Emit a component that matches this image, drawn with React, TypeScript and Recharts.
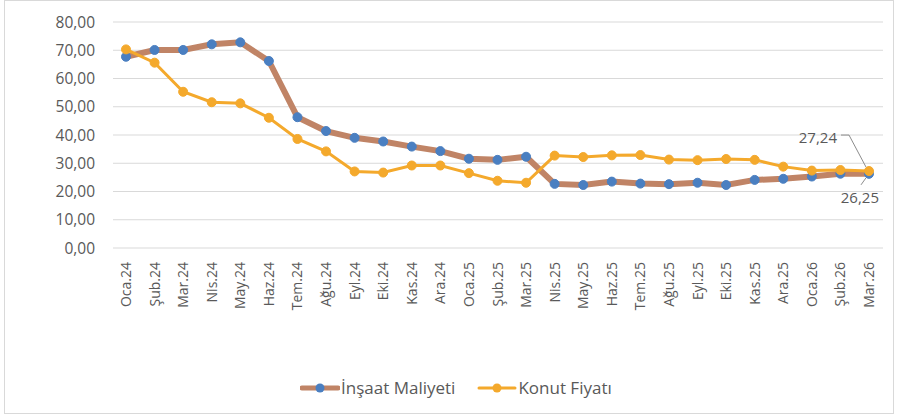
import React from 'react';
import {
  LineChart,
  Line,
  XAxis,
  YAxis,
  CartesianGrid,
  LabelList,
} from 'recharts';

const months = [
  'Oca.24', 'Şub.24', 'Mar.24', 'Nis.24', 'May.24', 'Haz.24', 'Tem.24', 'Ağu.24', 'Eyl.24', 'Eki.24', 'Kas.24', 'Ara.24',
  'Oca.25', 'Şub.25', 'Mar.25', 'Nis.25', 'May.25', 'Haz.25', 'Tem.25', 'Ağu.25', 'Eyl.25', 'Eki.25', 'Kas.25', 'Ara.25',
  'Oca.26', 'Şub.26', 'Mar.26',
];

const insaat = [
  67.7, 70.1, 70.1, 72.1, 72.8, 66.2, 46.3, 41.4, 39.0, 37.7, 35.9, 34.3,
  31.6, 31.2, 32.3, 22.7, 22.3, 23.5, 22.8, 22.6, 23.1, 22.3, 24.1, 24.5,
  25.3, 26.3, 26.25,
];

const konut = [
  70.3, 65.6, 55.3, 51.6, 51.2, 46.1, 38.6, 34.2, 27.1, 26.7, 29.2, 29.2,
  26.5, 23.8, 23.1, 32.7, 32.2, 32.8, 32.9, 31.3, 31.1, 31.5, 31.2, 28.8,
  27.4, 27.6, 27.24,
];

const yTicks = [0, 10, 20, 30, 40, 50, 60, 70, 80];

const data = months.map((m, i) => ({ month: m, insaat: insaat[i], konut: konut[i] }));

const FONT = '"Open Sans", "Noto Sans", sans-serif';
const TEXT = '#595959';
const BROWN = '#c08466';
const BLUE = '#4a7fc1';
const ORANGE = '#f4a92c';

const fmt = (v: number) => v.toFixed(2).replace('.', ',');

function XTick({ x, y, payload }: any) {
  const ty = y + 6;
  return (
    <text
      x={x}
      y={ty}
      dy={5}
      transform={`rotate(-90 ${x} ${ty})`}
      textAnchor="end"
      fill={TEXT}
      fontSize={14}
      fontFamily={FONT}
    >
      {payload.value}
    </text>
  );
}

const last = months.length - 1;

function KonutLabel({ x, y, index, value }: any) {
  if (index !== last) return null;
  return (
    <g>
      <polyline
        points={`${x - 28},${y - 36} ${x - 20},${y - 36} ${x - 3},${y - 4}`}
        fill="none"
        stroke="#8c8c8c"
        strokeWidth={1}
      />
      <text x={x - 32} y={y - 28} textAnchor="end" fill={TEXT} fontSize={15} fontFamily={FONT}>
        {fmt(value)}
      </text>
    </g>
  );
}

function InsaatLabel({ x, y, index, value }: any) {
  if (index !== last) return null;
  return (
    <g>
      <line x1={x - 3} y1={y + 4} x2={x - 8} y2={y + 11} stroke="#8c8c8c" strokeWidth={1} />
      <text x={x + 10} y={y + 29} textAnchor="end" fill={TEXT} fontSize={15} fontFamily={FONT}>
        {fmt(value)}
      </text>
    </g>
  );
}

function LegendItem({ label, line, dot, width }: { label: string; line: string; dot: string; width: number }) {
  return (
    <div style={{ display: 'flex', alignItems: 'center' }}>
      <svg width={40} height={12}>
        <line x1={2} y1={6} x2={38} y2={6} stroke={line} strokeWidth={width} strokeLinecap="round" />
        <circle cx={20} cy={6} r={4.5} fill={dot} />
      </svg>
      <span style={{ marginLeft: 1, fontSize: 17, color: TEXT, fontFamily: FONT }}>{label}</span>
    </div>
  );
}

export default function App() {
  return (
    <div
      style={{
        position: 'absolute',
        left: 4,
        top: 0,
        width: 890,
        height: 414,
        border: '1px solid #d9d9d9',
        background: '#fff',
        boxSizing: 'border-box',
      }}
    >
      <LineChart
        width={888}
        height={412}
        data={data}
        margin={{ top: 21, right: 10, left: 0, bottom: 85 }}
      >
        <CartesianGrid vertical={false} stroke="#d9d9d9" strokeWidth={1} />
        <XAxis
          dataKey="month"
          interval={0}
          axisLine={false}
          tickLine={false}
          height={80}
          padding={{ left: 13, right: 14 }}
          tick={<XTick />}
        />
        <YAxis
          domain={[0, 80]}
          ticks={yTicks}
          width={108}
          axisLine={false}
          tickLine={false}
          tickFormatter={fmt}
          tick={{ fill: TEXT, fontSize: 15.5, fontFamily: FONT }}
          tickMargin={12}
        />
        <Line
          dataKey="insaat"
          stroke={BROWN}
          strokeWidth={6}
          dot={{ r: 4.5, fill: BLUE, stroke: BLUE, strokeWidth: 1 }}
          isAnimationActive={false}
        >
          <LabelList dataKey="insaat" content={<InsaatLabel />} />
        </Line>
        <Line
          dataKey="konut"
          stroke={ORANGE}
          strokeWidth={3}
          dot={{ r: 4.5, fill: ORANGE, stroke: ORANGE, strokeWidth: 1 }}
          isAnimationActive={false}
        >
          <LabelList dataKey="konut" content={<KonutLabel />} />
        </Line>
      </LineChart>
      <div
        style={{
          position: 'absolute',
          top: 375,
          left: 295,
          display: 'flex',
          gap: 22,
        }}
      >
        <LegendItem label="İnşaat Maliyeti" line={BROWN} dot={BLUE} width={5} />
        <LegendItem label="Konut Fiyatı" line={ORANGE} dot={ORANGE} width={3} />
      </div>
    </div>
  );
}
